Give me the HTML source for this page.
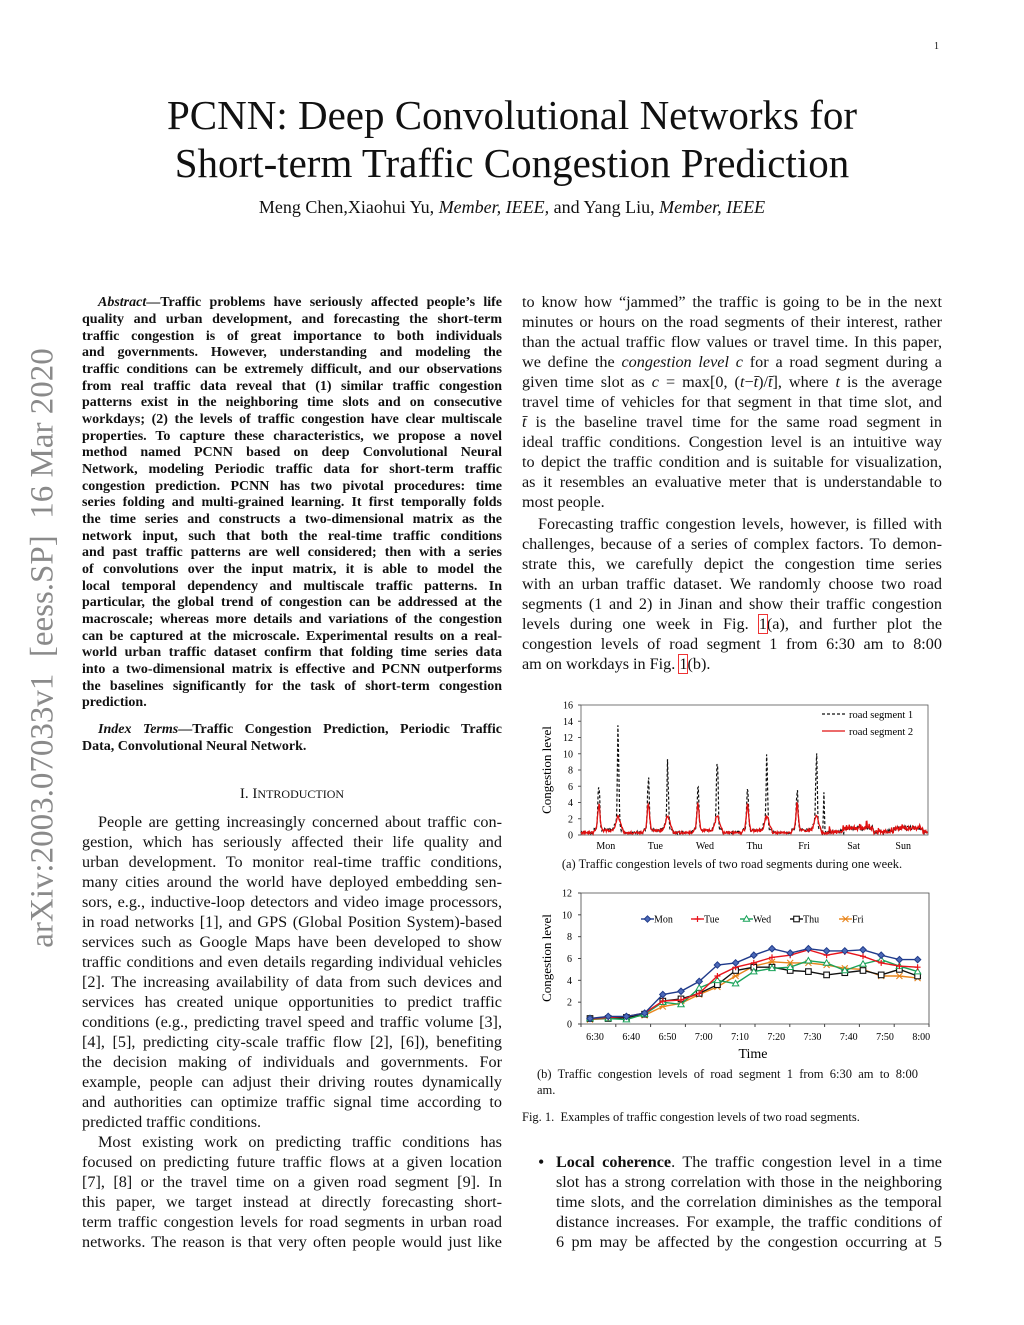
<!DOCTYPE html>
<html><head><meta charset="utf-8">
<style>
html,body{margin:0;padding:0;background:#fff;}
body{width:1024px;height:1325px;position:relative;overflow:hidden;font-family:"Liberation Serif",serif;color:#111;}
.l{position:absolute;white-space:nowrap;text-align:justify;text-align-last:justify;}
.ab{font-size:14px;font-weight:bold;line-height:17px;height:17px;}
.bd{font-size:16.2px;line-height:20px;height:20px;}
.last{text-align-last:left;}
.L{left:82px;width:420px;}
.R{left:522px;width:420px;}
.B{left:556px;width:386px;}
.c{position:absolute;white-space:nowrap;}
</style></head><body>
<div class="c" style="left:934px;top:41px;font-size:10px;">1</div>
<div class="c" style="left:0;width:1024px;top:91px;text-align:center;font-size:41px;line-height:48px;">PCNN: Deep Convolutional Networks for<br>Short-term Traffic Congestion Prediction</div>
<div class="c" style="left:0;width:1024px;top:197px;text-align:center;font-size:18px;">Meng Chen,Xiaohui Yu, <i>Member, IEEE,</i> and Yang Liu, <i>Member, IEEE</i></div>
<div class="c" style="left:43px;top:648px;transform:translate(-50%,-50%) rotate(-90deg);font-size:33px;color:#8a8a8a;">arXiv:2003.07033v1&nbsp; [eess.SP]&nbsp; 16 Mar 2020</div>

<div class="l ab L" style="top:294px;padding-left:16px;width:404px;"><i>Abstract</i>—Traffic problems have seriously affected people’s life</div>
<div class="l ab L" style="top:311px">quality and urban development, and forecasting the short-term</div>
<div class="l ab L" style="top:328px">traffic congestion is of great importance to both individuals</div>
<div class="l ab L" style="top:344px">and governments. However, understanding and modeling the</div>
<div class="l ab L" style="top:361px">traffic conditions can be extremely difficult, and our observations</div>
<div class="l ab L" style="top:378px">from real traffic data reveal that (1) similar traffic congestion</div>
<div class="l ab L" style="top:394px">patterns exist in the neighboring time slots and on consecutive</div>
<div class="l ab L" style="top:411px">workdays; (2) the levels of traffic congestion have clear multiscale</div>
<div class="l ab L" style="top:428px">properties. To capture these characteristics, we propose a novel</div>
<div class="l ab L" style="top:444px">method named PCNN based on deep Convolutional Neural</div>
<div class="l ab L" style="top:461px">Network, modeling Periodic traffic data for short-term traffic</div>
<div class="l ab L" style="top:478px">congestion prediction. PCNN has two pivotal procedures: time</div>
<div class="l ab L" style="top:494px">series folding and multi-grained learning. It first temporally folds</div>
<div class="l ab L" style="top:511px">the time series and constructs a two-dimensional matrix as the</div>
<div class="l ab L" style="top:528px">network input, such that both the real-time traffic conditions</div>
<div class="l ab L" style="top:544px">and past traffic patterns are well considered; then with a series</div>
<div class="l ab L" style="top:561px">of convolutions over the input matrix, it is able to model the</div>
<div class="l ab L" style="top:578px">local temporal dependency and multiscale traffic patterns. In</div>
<div class="l ab L" style="top:594px">particular, the global trend of congestion can be addressed at the</div>
<div class="l ab L" style="top:611px">macroscale; whereas more details and variations of the congestion</div>
<div class="l ab L" style="top:628px">can be captured at the microscale. Experimental results on a real-</div>
<div class="l ab L" style="top:644px">world urban traffic dataset confirm that folding time series data</div>
<div class="l ab L" style="top:661px">into a two-dimensional matrix is effective and PCNN outperforms</div>
<div class="l ab L" style="top:678px">the baselines significantly for the task of short-term congestion</div>
<div class="l ab L last" style="top:694px">prediction.</div>
<div class="l ab L" style="top:721px;padding-left:16px;width:404px;"><i>Index Terms</i>—Traffic Congestion Prediction, Periodic Traffic</div>
<div class="l ab L last" style="top:738px">Data, Convolutional Neural Network.</div>
<div class="c" style="left:82px;width:420px;top:786px;text-align:center;font-size:15px;">I. I<span style="font-size:12px">NTRODUCTION</span></div>

<div class="l bd L" style="top:812px;padding-left:16px;width:404px;">People are getting increasingly concerned about traffic con-</div>
<div class="l bd L" style="top:832px">gestion, which has seriously affected their life quality and</div>
<div class="l bd L" style="top:852px">urban development. To monitor real-time traffic conditions,</div>
<div class="l bd L" style="top:872px">many cities around the world have deployed embedding sen-</div>
<div class="l bd L" style="top:892px">sors, e.g., inductive-loop detectors and video image processors,</div>
<div class="l bd L" style="top:912px">in road networks [1], and GPS (Global Position System)-based</div>
<div class="l bd L" style="top:932px">services such as Google Maps have been developed to show</div>
<div class="l bd L" style="top:952px">traffic conditions and even details regarding individual vehicles</div>
<div class="l bd L" style="top:972px">[2]. The increasing availability of data from such devices and</div>
<div class="l bd L" style="top:992px">services has created unique opportunities to predict traffic</div>
<div class="l bd L" style="top:1012px">conditions (e.g., predicting travel speed and traffic volume [3],</div>
<div class="l bd L" style="top:1032px">[4], [5], predicting city-scale traffic flow [2], [6]), benefiting</div>
<div class="l bd L" style="top:1052px">the decision making of individuals and governments. For</div>
<div class="l bd L" style="top:1072px">example, people can adjust their driving routes dynamically</div>
<div class="l bd L" style="top:1092px">and authorities can optimize traffic signal time according to</div>
<div class="l bd L last" style="top:1112px">predicted traffic conditions.</div>
<div class="l bd L" style="top:1132px;padding-left:16px;width:404px;">Most existing work on predicting traffic conditions has</div>
<div class="l bd L" style="top:1152px">focused on predicting future traffic flows at a given location</div>
<div class="l bd L" style="top:1172px">[7], [8] or the travel time on a given road segment [9]. In</div>
<div class="l bd L" style="top:1192px">this paper, we target instead at directly forecasting short-</div>
<div class="l bd L" style="top:1212px">term traffic congestion levels for road segments in urban road</div>
<div class="l bd L" style="top:1232px">networks. The reason is that very often people would just like</div>

<div class="l bd R" style="top:292px">to know how “jammed” the traffic is going to be in the next</div>
<div class="l bd R" style="top:312px">minutes or hours on the road segments of their interest, rather</div>
<div class="l bd R" style="top:332px">than the actual traffic flow values or travel time. In this paper,</div>
<div class="l bd R" style="top:352px">we define the <i>congestion level c</i> for a road segment during a</div>
<div class="l bd R" style="top:372px">given time slot as <i>c</i> = max[0, (<i>t</i>−<i>t̄</i>)/<i>t̄</i>], where <i>t</i> is the average</div>
<div class="l bd R" style="top:392px">travel time of vehicles for that segment in that time slot, and</div>
<div class="l bd R" style="top:412px"><i>t̄</i> is the baseline travel time for the same road segment in</div>
<div class="l bd R" style="top:432px">ideal traffic conditions. Congestion level is an intuitive way</div>
<div class="l bd R" style="top:452px">to depict the traffic condition and is suitable for visualization,</div>
<div class="l bd R" style="top:472px">as it resembles an evaluative meter that is understandable to</div>
<div class="l bd R last" style="top:492px">most people.</div>
<div class="l bd R" style="top:514px;padding-left:16px;width:404px;">Forecasting traffic congestion levels, however, is filled with</div>
<div class="l bd R" style="top:534px">challenges, because of a series of complex factors. To demon-</div>
<div class="l bd R" style="top:554px">strate this, we carefully depict the congestion time series</div>
<div class="l bd R" style="top:574px">with an urban traffic dataset. We randomly choose two road</div>
<div class="l bd R" style="top:594px">segments (1 and 2) in Jinan and show their traffic congestion</div>
<div class="l bd R" style="top:614px">levels during one week in Fig. <span style="outline:1px solid #e33">1</span>(a), and further plot the</div>
<div class="l bd R" style="top:634px">congestion levels of road segment 1 from 6:30 am to 8:00</div>
<div class="l bd R last" style="top:654px">am on workdays in Fig. <span style="outline:1px solid #e33">1</span>(b).</div>

<svg id="ch" style="position:absolute;left:0;top:0" width="1024" height="1325" font-family="Liberation Serif, serif"></svg>

<div class="c" style="left:522px;width:420px;top:857px;text-align:center;font-size:12.5px;">(a) Traffic congestion levels of two road segments during one week.</div>
<div class="c" style="left:537px;top:1066px;font-size:12.5px;line-height:16px;">(b)&nbsp; Traffic&nbsp; congestion&nbsp; levels&nbsp; of&nbsp; road&nbsp; segment&nbsp; 1&nbsp; from&nbsp; 6:30&nbsp; am&nbsp; to&nbsp; 8:00<br>am.</div>
<div class="c" style="left:522px;top:1110px;font-size:12.5px;">Fig. 1.&nbsp; Examples of traffic congestion levels of two road segments.</div>

<div class="c" style="left:538px;top:1152px;font-size:18px;">•</div>
<div class="l bd B" style="top:1152px"><b>Local coherence</b>. The traffic congestion level in a time</div>
<div class="l bd B" style="top:1172px">slot has a strong correlation with those in the neighboring</div>
<div class="l bd B" style="top:1192px">time slots, and the correlation diminishes as the temporal</div>
<div class="l bd B" style="top:1212px">distance increases. For example, the traffic conditions of</div>
<div class="l bd B" style="top:1232px">6 pm may be affected by the congestion occurring at 5</div>

<script>
(function(){
var s=document.getElementById('ch'),h='';
function T(x,y,t,o){h+='<text x="'+x+'" y="'+y+'" '+(o||'')+'>'+t+'</text>';}
var X0=581,X1=928,Y0=835,Y1=705,sy=(Y0-Y1)/16;
h+='<rect x="'+X0+'" y="'+Y1+'" width="'+(X1-X0)+'" height="'+(Y0-Y1)+'" fill="none" stroke="#555" stroke-width="0.8"/>';
for(var v=0;v<=16;v+=2){T(573,Y0-v*sy+3.5,v,'font-size="10" text-anchor="end"');h+='<line x1="'+(X0-3)+'" x2="'+X0+'" y1="'+(Y0-v*sy)+'" y2="'+(Y0-v*sy)+'" stroke="#555"/>';}
var days=['Mon','Tue','Wed','Thu','Fri','Sat','Sun'],dw=(X1-X0)/7;
for(var d=0;d<7;d++){T(X0+dw*(d+0.5),849,days[d],'font-size="10" text-anchor="middle"');}
T(551,770,'Congestion level','font-size="13" text-anchor="middle" transform="rotate(-90 551 770)"');
var seed=7;function r(){seed=(seed*16807)%2147483647;return seed/2147483647;}
var h1=[6.8,7.1,5.8,6.2,5.7],h2=[13.5,9,11.3,10.8,11.3];
var p1='',p2='',N=90;
for(var d=0;d<7;d++)for(var i=0;i<N;i++){var t=i/N,x=X0+dw*(d+t),a,b;
 function g(c,w){return Math.exp(-Math.pow((t-c)/w,2));}
 if(d<5){var day=(t>0.25&&t<0.85)?0.5:0.15;
  a=day+h1[d]*g(0.36,0.025)*(0.75+0.25*r())+h2[d]*g(0.75,0.022)*(0.7+0.3*r())+0.8*g(0.7,0.04)+0.3*r();
  if(d==4)a+=5*g(0.9,0.012);
  b=day*0.8+3.4*g(0.36,0.035)*(0.85+0.15*r())+1.9*g(0.75,0.06)*(0.85+0.15*r())+0.3*r();
 }else{var day=(t>0.3&&t<0.9)?0.6:0.15;a=day+0.5*r();b=day+0.5*r();if(r()>0.95)b+=0.6;}
 p1+=x.toFixed(1)+','+(Y0-a*sy).toFixed(1)+' ';p2+=x.toFixed(1)+','+(Y0-b*sy).toFixed(1)+' ';}
h+='<polyline points="'+p1+'" fill="none" stroke="#111" stroke-width="1.2" stroke-dasharray="3,2"/>';
h+='<polyline points="'+p2+'" fill="none" stroke="#e01010" stroke-width="1.3"/>';
h+='<line x1="822" x2="845" y1="714" y2="714" stroke="#111" stroke-width="1.3" stroke-dasharray="3,2"/>';
h+='<line x1="822" x2="845" y1="731" y2="731" stroke="#e01010" stroke-width="1.3"/>';
T(849,718,'road segment 1','font-size="10.5"');T(849,735,'road segment 2','font-size="10.5"');
var B0=581,B1=929,BY0=1024,BY1=893,by=(BY0-BY1)/12;
h+='<path d="M'+B0+' '+BY1+'V'+BY0+'H'+B1+'V'+BY1+'Z" fill="none" stroke="#444" stroke-width="0.8"/>';
for(var v=0;v<=12;v+=2){T(572,BY0-v*by+3.5,v,'font-size="10" text-anchor="end"');h+='<line x1="'+(B0-3)+'" x2="'+B0+'" y1="'+(BY0-v*by)+'" y2="'+(BY0-v*by)+'" stroke="#444"/>';}
var lab=['6:30','6:40','6:50','7:00','7:10','7:20','7:30','7:40','7:50','8:00'];
for(var i=0;i<10;i++){var x=B0+(B1-B0)*i/9.6+14;T(x,1040,lab[i],'font-size="10" text-anchor="middle"');}
for(var i=0;i<=10;i++){var x=B0+(B1-B0)*i/10;h+='<line x1="'+x+'" x2="'+x+'" y1="'+BY0+'" y2="'+(BY0+3)+'" stroke="#444"/>';}
T(753,1058,'Time','font-size="14" text-anchor="middle"');
T(551,958,'Congestion level','font-size="13" text-anchor="middle" transform="rotate(-90 551 958)"');
var D={Mon:[.5,.7,.7,1.0,2.7,3.0,3.9,5.4,5.6,6.3,6.9,6.5,6.9,6.7,6.7,6.8,6.3,5.9,5.9],
Tue:[.5,.6,.7,1.0,2.1,2.2,2.8,4.4,5.2,5.6,6.1,6.3,6.8,6.3,6.6,6.2,5.6,5.3,5.2],
Wed:[.5,.5,.4,.9,2.0,1.8,3.3,4.0,3.7,4.8,5.1,5.2,5.8,5.6,4.9,5.5,5.9,5.3,4.8],
Thu:[.5,.5,.6,.9,2.1,2.3,2.8,3.6,4.9,5.2,5.2,4.9,4.8,4.5,4.7,4.9,4.5,5.0,4.4],
Fri:[.4,.5,.6,.8,1.6,1.9,2.7,3.4,4.4,5.3,5.7,5.6,5.6,5.4,5.1,5.0,4.4,4.4,4.2]};
var C={Mon:'#1f3a8a',Tue:'#e8141c',Wed:'#19a35a',Thu:'#111',Fri:'#e8851c'};
function mk(k,x,y){var c=C[k];
 if(k=='Mon')return '<path d="M'+x+' '+(y-3.2)+'l3.2 3.2l-3.2 3.2l-3.2 -3.2z" fill="#4d6ab8" stroke="'+c+'" stroke-width="1"/>';
 if(k=='Tue')return '<path d="M'+(x-3)+' '+y+'h6M'+x+' '+(y-3)+'v6" stroke="'+c+'" stroke-width="1.2"/>';
 if(k=='Wed')return '<path d="M'+x+' '+(y-3.2)+'l3.2 5.5h-6.4z" fill="#fff" stroke="'+c+'" stroke-width="1"/>';
 if(k=='Thu')return '<rect x="'+(x-2.8)+'" y="'+(y-2.8)+'" width="5.6" height="5.6" fill="#fff" stroke="'+c+'" stroke-width="1.1"/>';
 return '<path d="M'+(x-3)+' '+(y-3)+'l6 6M'+(x+3)+' '+(y-3)+'l-6 6M'+(x-3.5)+' '+y+'h7" stroke="'+c+'" stroke-width="1.1"/>';}
var keys=['Fri','Thu','Wed','Tue','Mon'];
keys.forEach(function(k){var p='',m='';D[k].forEach(function(v,i){var x=590+i*18.2,y=BY0-v*by;p+=x.toFixed(1)+','+y.toFixed(1)+' ';m+=mk(k,x.toFixed(1)*1,y.toFixed(1)*1);});
 h+='<polyline points="'+p+'" fill="none" stroke="'+C[k]+'" stroke-width="1.4"/>'+m;});
var lx={Mon:641,Tue:691,Wed:740,Thu:790,Fri:839};
['Mon','Tue','Wed','Thu','Fri'].forEach(function(k){var x=lx[k];h+='<line x1="'+x+'" x2="'+(x+13)+'" y1="919" y2="919" stroke="'+C[k]+'" stroke-width="1.4"/>'+mk(k,x+6.5,919);T(x+13,922.5,k,'font-size="10"');});
s.innerHTML=h;
})();
</script>
</body></html>
